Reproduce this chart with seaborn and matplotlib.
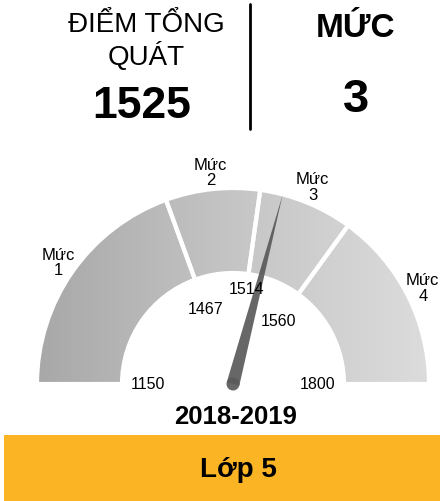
import numpy as np
import matplotlib
matplotlib.use("Agg")
import matplotlib.pyplot as plt
from matplotlib.patches import Wedge, Polygon, Circle, Rectangle
import seaborn as sns

# Dati del cruscotto
score = 1525
level = "3"
cuts = [1150, 1467, 1514, 1560, 1800]
level_labels = ["Mức\n1", "Mức\n2", "Mức\n3", "Mức\n4"]
header_left = ["ĐIỂM TỔNG", "QUÁT"]
header_right = "MỨC"
year = "2018-2019"
grade = "Lớp 5"

sns.set_theme(style="white")
plt.rcParams['font.family'] = ['Liberation Sans', 'DejaVu Sans']
plt.rcParams['text.color'] = 'black'

# angoli (gradi) a cui cadono i limiti dei livelli sul quadrante
cut_angles = [180, 110, 82, 54, 0]
cut_label_r = [85, 80, 96, 78, 85]
cx, cy = 233, 385
r_out, r_in = 195, 112

def to_angle(v):
    return np.interp(v, cuts, cut_angles)

def polar(r, a):
    t = np.radians(a)
    return cx + r * np.cos(t), cy - r * np.sin(t)

fig = plt.figure(figsize=(4.43, 5.02), dpi=100, facecolor='white')
ax = fig.add_axes([0, 0, 1, 1])

# sfumatura grigia da sinistra a destra, ritagliata sui settori
grey_cmap = sns.blend_palette(['#a8a8a8', '#c5c5c5', '#dcdcdc'], as_cmap=True)
grad = np.linspace(0, 1, 256).reshape(1, -1)
for lo, hi in zip(cuts[:-1], cuts[1:]):
    a_hi, a_lo = to_angle(lo), to_angle(hi)
    w = Wedge((cx, cy), r_out, -a_hi, -a_lo, width=r_out - r_in,
              facecolor='none', edgecolor='none')
    ax.add_patch(w)
    im = ax.imshow(grad, cmap=grey_cmap, aspect='auto',
                   extent=(cx - r_out, cx + r_out, cy, cy - r_out), zorder=1)
    im.set_clip_path(w)
    ax.add_patch(Wedge((cx, cy), r_out + 1, -a_hi, -a_lo, width=r_out - r_in + 2,
                       facecolor='none', edgecolor='white', linewidth=3, zorder=2))

# etichette dei livelli
for lab, lo, hi in zip(level_labels, cuts[:-1], cuts[1:]):
    mid = (to_angle(lo) + to_angle(hi)) / 2
    x, y = polar(213, mid)
    ax.text(x, y, lab, ha='center', va='center', fontsize=12, linespacing=1.05, zorder=5)

# valori dei limiti
for c, r in zip(cuts, cut_label_r):
    x, y = polar(r, to_angle(c))
    ax.text(x, y, str(c), ha='center', va='center', fontsize=11.5, zorder=5)

# lancetta
a = np.radians(to_angle(score))
tip = polar(196, to_angle(score))
half = 6.5
px, py = np.sin(a) * half, np.cos(a) * half
needle = Polygon([(cx - px, cy - py), tip, (cx + px, cy + py)], closed=True,
                 facecolor='#5a5a5a', edgecolor='none', alpha=0.92, zorder=4)
ax.add_patch(needle)
ax.add_patch(Circle((cx, cy), half, facecolor='#5a5a5a', edgecolor='none', alpha=0.92, zorder=4))

# intestazione
ax.text(146, 32, header_left[0], ha='center', va='baseline', fontsize=20)
ax.text(146, 65, header_left[1], ha='center', va='baseline', fontsize=20)
ax.text(142, 118, str(score), ha='center', va='baseline', fontsize=32, fontweight='bold')
ax.text(356, 37, header_right, ha='center', va='baseline', fontsize=24, fontweight='bold')
ax.text(356, 112, level, ha='center', va='baseline', fontsize=34, fontweight='bold')
ax.plot([250, 250], [5, 130], color='black', linewidth=2)

# anno e barra arancione
ax.text(236, 424, year, ha='center', va='baseline', fontsize=18.5, fontweight='bold')
ax.add_patch(Rectangle((4, 436), 436, 70, facecolor='#fbb424', edgecolor='none'))
ax.text(238, 470, grade, ha='center', va='center', fontsize=20, fontweight='bold')

ax.set_xlim(0, 443)
ax.set_ylim(502, 0)
ax.axis('off')

plt.savefig("out.png", dpi=100, facecolor='white')
